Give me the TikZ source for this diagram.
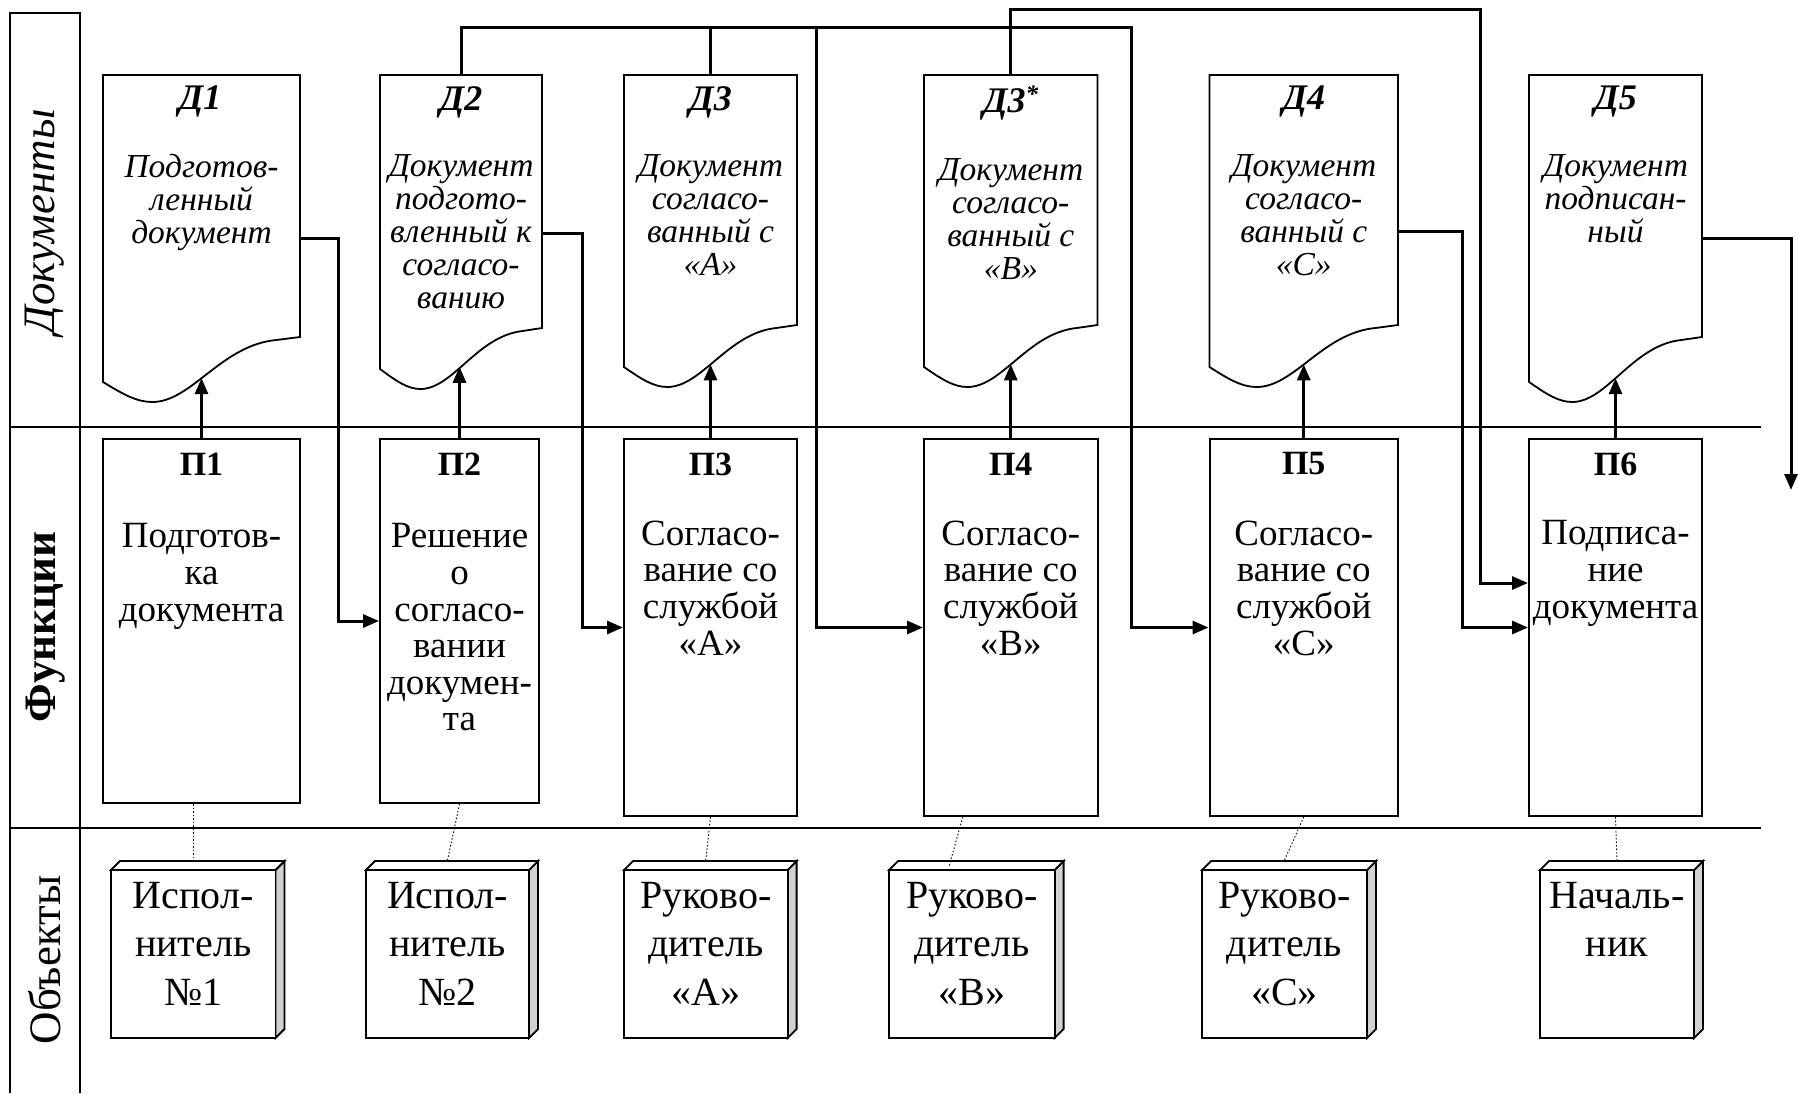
\documentclass[tikz,border=0pt]{standalone}
\usepackage{fontspec}
\setmainfont{Liberation Serif}
\usetikzlibrary{arrows.meta,calc}

% document symbol: name, left, top, right, left bottom y, right bottom y
\newcommand\docshape[6]{%
  \pgfmathsetmacro\dwid{#4-#2}%
  \path (#2,#3) coordinate (#1nw) (#4,#3) coordinate (#1ne) ({(#2+#4)/2},#3) coordinate (#1n);
  \draw[docline] (#2,#5) -- (#2,#3) -- (#4,#3) -- (#4,#6)
    -- ({#2+0.88*\dwid},{#6+3})
    .. controls ({#2+0.6*\dwid},{#6+8}) and ({#2+0.45*\dwid},{#5+20}) .. ({#2+0.25*\dwid},{#5+20}) coordinate[pos=0.56] (#1w)
    .. controls ({#2+0.17*\dwid},{#5+20}) and ({#2+0.1*\dwid},{#5+12}) .. (#2,#5) -- cycle;
}

% object as a 3D box: name, left, right, width, text
\newcommand\objbox[5]{%
  \draw[sideface] (#3,870) -- ({#3+9},861) -- ({#3+9},1029) -- (#3,1038) -- cycle;
  \draw[topface] (#2,870) -- ({#2+9},861) -- ({#3+9},861) -- (#3,870) -- cycle;
  \node[objfront, minimum width=#4pt] (#1) at ({(#2+#3)/2},954) {};
  \node[otext] (#1t) at ({(#2+#3)/2},882) {#5};
}

\begin{document}
\begin{tikzpicture}[x=1pt,y=-1pt,
  band/.style={line width=2pt},
  box/.style={draw, line width=2pt, rectangle, inner sep=0pt},
  docline/.style={line width=1.8pt, line join=miter},
  conn/.style={line width=3pt},
  arr/.style={-{Triangle[length=16pt,width=13pt]}},
  dotline/.style={line width=0.9pt, dash pattern=on 1.5pt off 2pt},
  ptitle/.style={font=\fontsize{34}{36}\selectfont\bfseries, inner sep=0pt},
  ptext/.style={font=\fontsize{37}{36.6}\selectfont, align=center, inner sep=0pt, anchor=north},
  dtitle/.style={font=\fontsize{36}{38}\selectfont\bfseries\itshape, inner sep=0pt, anchor=north},
  dtext/.style={font=\fontsize{33.5}{33}\selectfont\itshape, align=center, inner sep=0pt, anchor=north},
  otext/.style={font=\fontsize{40}{48.5}\selectfont, align=center, inner sep=0pt, anchor=north},
  objfront/.style={draw, line width=1.8pt, fill=white, inner sep=0pt, minimum height=168pt},
  sideface/.style={draw, line width=1.8pt, fill=black!18, line join=miter},
  topface/.style={draw, line width=1.8pt, fill=white, line join=miter},
  lane/.style={inner sep=0pt, rotate=90},
]
\useasboundingbox (0,0) rectangle (1798,1093);

% lanes
\draw[band] (10,1093) -- (10,13) -- (80,13) -- (80,1093);
\draw[band] (10,427) -- (1761,427);
\draw[band] (10,828) -- (1761,828);
\node[lane, font=\fontsize{45}{48}\selectfont\itshape] (lanedoc) at (45,222) {Документы};
\node[lane, font=\fontsize{45}{48}\selectfont\bfseries] (lanefun) at (46,627) {Функции};
\node[lane, font=\fontsize{45}{48}\selectfont] (laneobj) at (45,960) {Объекты};

% documents
\docshape{d1}{103}{75}{300}{382}{337}
\docshape{d2}{380}{75}{542}{369}{328}
\docshape{d3}{624}{75}{797}{367}{325}
\docshape{d3s}{924}{75}{1097.5}{367}{325}
\docshape{d4}{1209.5}{75}{1398}{367}{325}
\docshape{d5}{1529}{75}{1702}{382}{337}

\node[dtitle] (d1h) at (200,86) {Д1};
\node[dtitle] (d2h) at (461,86) {Д2};
\node[dtitle] (d3h) at (710.5,86) {Д3};
\node[dtitle] (d3sh) at (1010.75,86) {Д3\textsuperscript{*}};
\node[dtitle] (d4h) at (1303.75,86) {Д4};
\node[dtitle] (d5h) at (1615.5,86) {Д5};

\node[dtext] (d1t) at (201.5,154) {Подготов-\\ленный\\документ};
\node[dtext] (d2t) at (461,154) {Документ\\подгото-\\вленный к\\согласо-\\ванию};
\node[dtext] (d3t) at (710.5,154) {Документ\\согласо-\\ванный с\\«А»};
\node[dtext] (d3st) at (1010.75,158) {Документ\\согласо-\\ванный с\\«В»};
\node[dtext] (d4t) at (1303.75,154) {Документ\\согласо-\\ванный с\\«С»};
\node[dtext] (d5t) at (1615.5,154) {Документ\\подписан-\\ный};

% functions
\node[box, minimum width=197pt, minimum height=364pt] (p1) at (201.5,621) {};
\node[box, minimum width=159pt, minimum height=364pt] (p2) at (459.5,621) {};
\node[box, minimum width=173pt, minimum height=377pt] (p3) at (710.5,627.5) {};
\node[box, minimum width=173.5pt, minimum height=377pt] (p4) at (1010.75,627.5) {};
\node[box, minimum width=188.5pt, minimum height=377pt] (p5) at (1303.75,627.5) {};
\node[box, minimum width=173pt, minimum height=377pt] (p6) at (1615.5,627.5) {};

\node[ptitle] (p1h) at (201.5,464) {П1};
\node[ptitle] (p2h) at (459.5,464) {П2};
\node[ptitle] (p3h) at (710.5,464) {П3};
\node[ptitle] (p4h) at (1010.75,464) {П4};
\node[ptitle] (p5h) at (1303.75,464) {П5};
\node[ptitle] (p6h) at (1615.5,464) {П6};

\node[ptext] (p1t) at (201.5,523.5) {Подготов-\\ка\\документа};
\node[ptext] (p2t) at (459.5,523.5) {Решение\\о\\согласо-\\вании\\докумен-\\та};
\node[ptext] (p3t) at (710.5,520.5) {Согласо-\\вание со\\службой\\«А»};
\node[ptext] (p4t) at (1010.75,520.5) {Согласо-\\вание со\\службой\\«В»};
\node[ptext] (p5t) at (1303.75,520.5) {Согласо-\\вание со\\службой\\«С»};
\node[ptext] (p6t) at (1615.5,520.5) {Подписа-\\ние\\документа};

% objects
\objbox{o1}{111}{275.5}{164.5}{Испол-\\нитель\\№1}
\objbox{o2}{366}{529}{163}{Испол-\\нитель\\№2}
\objbox{o3}{624}{787.6}{163.6}{Руково-\\дитель\\«А»}
\objbox{o4}{889}{1054.6}{165.6}{Руково-\\дитель\\«В»}
\objbox{o5}{1202}{1367}{165}{Руково-\\дитель\\«С»}
\objbox{o6}{1540}{1694}{154}{Началь-\\ник}

% function produces document
\foreach \p/\d in {p1/d1,p2/d2,p3/d3,p4/d3s,p5/d4,p6/d5}
  \draw[conn,arr] (\p.north) -- (\p.north |- \d w);

% documents feed functions
\draw[conn,arr] ([yshift=-163pt]d1ne) -| ([xshift=-40.5pt]p2.west) -- (p2.west);
\draw[conn,arr] ([yshift=-158pt]d2ne) -| ([xshift=-41pt]p3.west) -- (p3.west);
\coordinate (busend) at (1131,27);
\coordinate (busmid) at (816,27);
\coordinate (bustop) at (1480,9);
\draw[conn,arr] (d2n) |- (busend) |- (p5.west);
\draw[conn] (d3n) -- (d3n |- busend);
\draw[conn,arr] (busmid) |- (p4.west);
\draw[conn,arr] (d3sn) |- (bustop) |- ([yshift=44.5pt]p6.west);
\draw[conn,arr] ([yshift=-156pt]d4ne) -| ([xshift=-66pt]p6.west) -- (p6.west);
\coordinate (outend) at (1791,490);
\draw[conn,arr] ([yshift=-163pt]d5ne) -| (outend);

% performers of functions
\draw[dotline] (p1.south -| o1.north) -- ([yshift=9pt]o1.north);
\draw[dotline] (p2.south) -- ([yshift=9pt]o2.north);
\draw[dotline] (p3.south) -- ([yshift=9pt]o3.north);
\draw[dotline] ([xshift=-48pt]p4.south) -- ([xshift=-23pt,yshift=2pt]o4.north);
\draw[dotline] (p5.south) -- ([yshift=9pt]o5.north);
\draw[dotline] (p6.south) -- ([yshift=9pt]o6.north);
\end{tikzpicture}
\end{document}
